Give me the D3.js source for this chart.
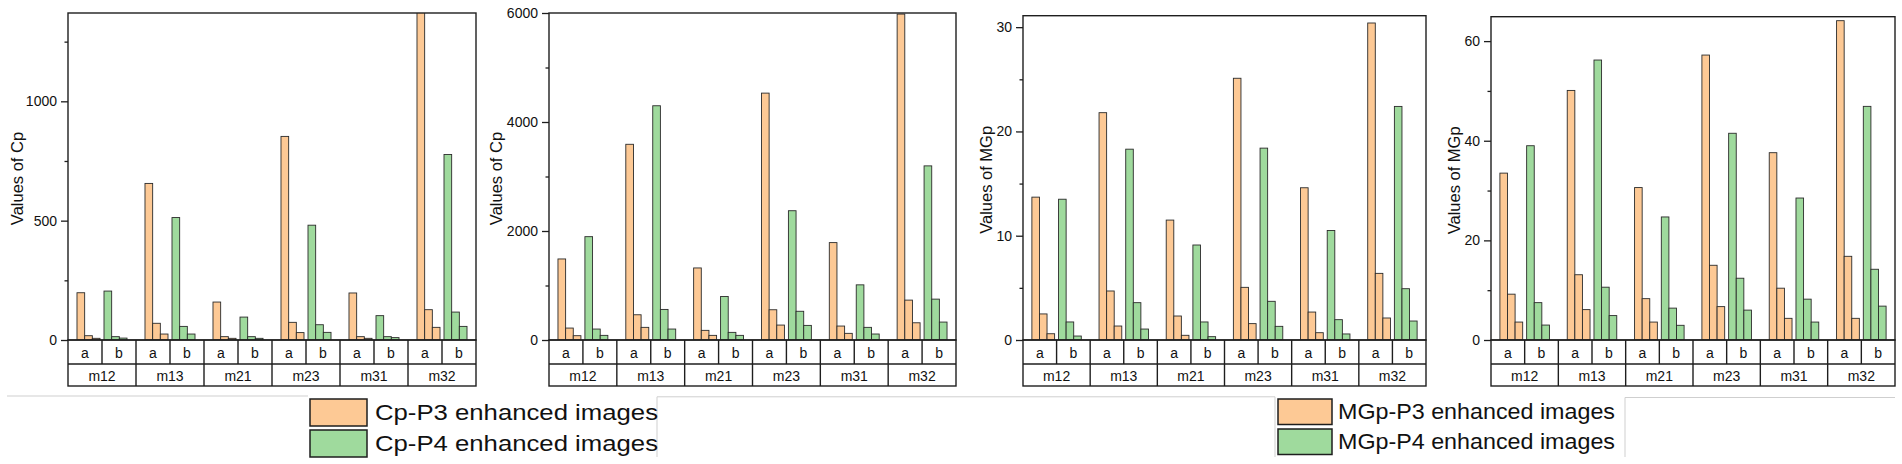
<!DOCTYPE html>
<html>
<head>
<meta charset="utf-8">
<script src="https://cdn.jsdelivr.net/npm/d3@7"></script>
<style>
  body { margin: 0; background: #fff; }
  svg { display: block; font-family: "Liberation Sans", Arial, sans-serif; }
</style>
</head>
<body>
<script>
const groups = ['m12', 'm13', 'm21', 'm23', 'm31', 'm32']
const subgroups = ['a', 'b']
const bars = [0, 1, 2]

// three bars per subgroup, one triple per group
const cpLeftP3 = [[198, 18, 7], [656, 70, 25], [159, 14, 7], [853, 74, 31], [197, 14, 7], [1400, 127, 53]]
const cpLeftP4 = [[205, 14, 8], [513, 57, 25], [96, 14, 7], [481, 64, 32], [102, 14, 10], [777, 117, 57]]
const cpRightP3 = [[1487, 219, 79], [3591, 463, 232], [1322, 177, 85], [4530, 555, 274], [1787, 256, 122], [5980, 732, 316]]
const cpRightP4 = [[1896, 201, 85], [4298, 561, 201], [799, 140, 85], [2372, 527, 268], [1012, 232, 110], [3195, 750, 329]]
const mgpLeftP3 = [[13.7, 2.5, 0.6], [21.8, 4.7, 1.34], [11.5, 2.3, 0.45], [25.1, 5.05, 1.57], [14.6, 2.68, 0.7], [30.4, 6.39, 2.11]]
const mgpLeftP4 = [[13.5, 1.73, 0.38], [18.3, 3.58, 1.05], [9.11, 1.73, 0.32], [18.4, 3.71, 1.31], [10.5, 1.95, 0.58], [22.4, 4.92, 1.82]]
const mgpRightP3 = [[33.5, 9.2, 3.6], [50.1, 13.1, 6.1], [30.6, 8.3, 3.6], [57.2, 15, 6.7], [37.6, 10.4, 4.35], [64.1, 16.8, 4.35]]
const mgpRightP4 = [[39, 7.5, 3], [56.2, 10.6, 4.9], [24.7, 6.4, 2.95], [41.5, 12.4, 6], [28.5, 8.2, 3.6], [46.9, 14.2, 6.8]]

const cpLeftTicks = [0, 500, 1000]
const cpLeftMinor = [250, 750, 1250]
const cpRightTicks = [0, 2000, 4000, 6000]
const cpRightMinor = [1000, 3000, 5000]
const mgpLeftTicks = [0, 10, 20, 30]
const mgpLeftMinor = [5, 15, 25]
const mgpRightTicks = [0, 20, 40, 60]
const mgpRightMinor = [10, 30, 50]
const yMaxes = [1370, 6000, 31.1, 64.9]

const legendCp = ['Cp-P3 enhanced images', 'Cp-P4 enhanced images']
const legendMgp = ['MGp-P3 enhanced images', 'MGp-P4 enhanced images']

const colors = { a: '#fdc995', b: '#9fda9d' }
const width = 1902
const height = 464
const baseY = 340
const row1 = 364
const row2 = 386

const panels = [
  { title: 'Values of Cp', p3: cpLeftP3, p4: cpLeftP4, ticks: cpLeftTicks, minor: cpLeftMinor, yMax: yMaxes[0], left: 68, right: 476, top: 13, titleX: 17 },
  { title: 'Values of Cp', p3: cpRightP3, p4: cpRightP4, ticks: cpRightTicks, minor: cpRightMinor, yMax: yMaxes[1], left: 549, right: 956, top: 13, titleX: 496 },
  { title: 'Values of MGp', p3: mgpLeftP3, p4: mgpLeftP4, ticks: mgpLeftTicks, minor: mgpLeftMinor, yMax: yMaxes[2], left: 1023, right: 1426, top: 15.7, titleX: 986 },
  { title: 'Values of MGp', p3: mgpRightP3, p4: mgpRightP4, ticks: mgpRightTicks, minor: mgpRightMinor, yMax: yMaxes[3], left: 1491, right: 1895, top: 16.7, titleX: 1454 }
]

const svg = d3.select('body')
  .append('svg')
  .attr('width', width)
  .attr('height', height)

// faint frame lines left over round the legends
const grey = svg.append('g')
  .attr('stroke', '#cfcfcf')
  .attr('stroke-width', 1)
  .attr('fill', 'none')
grey.append('path').attr('d', 'M7,396H308')
grey.append('path').attr('d', 'M657,457V396.8H1275V457')
grey.append('path').attr('d', 'M1625,457V397.5H1895')

panels.forEach(function (p, pi) {
  const g = svg.append('g')

  const x0 = d3.scaleBand()
    .domain(groups)
    .range([p.left, p.right])
  const x1 = d3.scaleBand()
    .domain(subgroups)
    .range([0, x0.bandwidth()])
    .paddingInner(0.148)
    .paddingOuter(0.333)
  const x2 = d3.scaleBand()
    .domain(bars)
    .range([0, x1.bandwidth()])
  const cell = d3.scaleBand()
    .domain(subgroups)
    .range([0, x0.bandwidth()])
  const y = d3.scaleLinear()
    .domain([0, p.yMax])
    .range([baseY, p.top])

  const clipId = 'clip' + pi
  svg.append('clipPath').attr('id', clipId)
    .append('rect')
    .attr('x', p.left).attr('y', p.top)
    .attr('width', p.right - p.left).attr('height', baseY - p.top)

  const rows = []
  groups.forEach(function (grp, gi) {
    subgroups.forEach(function (s) {
      const vals = s === 'a' ? p.p3[gi] : p.p4[gi]
      bars.forEach(function (b) {
        rows.push({ group: grp, sub: s, bar: b, value: vals[b] })
      })
    })
  })

  g.append('g')
    .attr('clip-path', `url(#${clipId})`)
    .selectAll('rect')
    .data(rows)
    .enter()
    .append('rect')
    .attr('x', function (d) { return x0(d.group) + x1(d.sub) + x2(d.bar) })
    .attr('y', function (d) { return y(d.value) })
    .attr('width', x2.bandwidth())
    .attr('height', function (d) { return baseY - y(d.value) })
    .attr('fill', function (d) { return colors[d.sub] })
    .attr('stroke', '#2b2b2b')
    .attr('stroke-width', 0.9)

  // plot frame
  g.append('rect')
    .attr('x', p.left).attr('y', p.top)
    .attr('width', p.right - p.left).attr('height', baseY - p.top)
    .attr('fill', 'none')
    .attr('stroke', '#1e1e1e')
    .attr('stroke-width', 1.4)

  const yAxis = d3.axisLeft(y)
    .tickValues(p.ticks)
    .tickFormat(d3.format('d'))
    .tickSize(7)
    .tickSizeOuter(0)
    .tickPadding(4)
  const yMinor = d3.axisLeft(y)
    .tickValues(p.minor)
    .tickSize(3.5)
    .tickSizeOuter(0)
    .tickFormat('')

  const ax = g.append('g')
    .attr('transform', `translate(${p.left}, 0)`)
    .call(yAxis)
  ax.select('.domain').remove()
  ax.selectAll('line').attr('stroke', '#1e1e1e').attr('stroke-width', 1.3)
  ax.selectAll('text')
    .attr('font-size', 14)
    .attr('fill', '#111')
    .attr('font-family', '"Liberation Sans", Arial, sans-serif')

  const mx = g.append('g')
    .attr('transform', `translate(${p.left}, 0)`)
    .call(yMinor)
  mx.select('.domain').remove()
  mx.selectAll('line').attr('stroke', '#1e1e1e').attr('stroke-width', 1.3)

  g.append('text')
    .attr('transform', `translate(${p.titleX}, ${(baseY + p.top) / 2 + 2}) rotate(-90)`)
    .attr('text-anchor', 'middle')
    .attr('dominant-baseline', 'central')
    .attr('font-size', 16.5)
    .attr('fill', '#111')
    .text(p.title)

  // category table under the plot
  const table = g.append('g')
    .attr('stroke', '#1e1e1e')
    .attr('stroke-width', 1.4)
    .attr('fill', 'none')
  table.append('rect')
    .attr('x', p.left).attr('y', baseY)
    .attr('width', p.right - p.left).attr('height', row2 - baseY)
  table.append('line')
    .attr('x1', p.left).attr('x2', p.right)
    .attr('y1', row1).attr('y2', row1)
  table.selectAll('.gdiv')
    .data(groups.slice(1))
    .enter()
    .append('line')
    .attr('x1', function (d) { return x0(d) })
    .attr('x2', function (d) { return x0(d) })
    .attr('y1', baseY).attr('y2', row2)
  table.selectAll('.sdiv')
    .data(groups)
    .enter()
    .append('line')
    .attr('x1', function (d) { return x0(d) + cell('b') })
    .attr('x2', function (d) { return x0(d) + cell('b') })
    .attr('y1', baseY).attr('y2', row1)

  const cells = []
  groups.forEach(function (grp) {
    subgroups.forEach(function (s) { cells.push({ group: grp, sub: s }) })
  })
  g.selectAll('.sublabel')
    .data(cells)
    .enter()
    .append('text')
    .attr('x', function (d) { return x0(d.group) + cell(d.sub) + cell.bandwidth() / 2 })
    .attr('y', (baseY + row1) / 2 + 1)
    .attr('text-anchor', 'middle')
    .attr('dominant-baseline', 'central')
    .attr('font-size', 14)
    .attr('fill', '#111')
    .text(function (d) { return d.sub })
  g.selectAll('.grouplabel')
    .data(groups)
    .enter()
    .append('text')
    .attr('x', function (d) { return x0(d) + x0.bandwidth() / 2 })
    .attr('y', (row1 + row2) / 2 + 1)
    .attr('text-anchor', 'middle')
    .attr('dominant-baseline', 'central')
    .attr('font-size', 14)
    .attr('fill', '#111')
    .text(function (d) { return d })
})

const drawLegend = function (labels, x, swW, swH, tops, textX, textLen) {
  const lg = svg.append('g')
  labels.forEach(function (label, i) {
    lg.append('rect')
      .attr('x', x).attr('y', tops[i])
      .attr('width', swW).attr('height', swH)
      .attr('fill', i === 0 ? colors.a : colors.b)
      .attr('stroke', '#1e1e1e')
      .attr('stroke-width', 1.5)
    lg.append('text')
      .attr('x', textX)
      .attr('y', tops[i] + swH - 6)
      .attr('font-size', 22.5)
      .attr('fill', '#111')
      .attr('textLength', textLen)
      .attr('lengthAdjust', 'spacingAndGlyphs')
      .text(label)
  })
}
drawLegend(legendCp, 310, 57, 27, [399, 430], 375, 283)
drawLegend(legendMgp, 1278, 54, 25.5, [399, 429], 1338, 277)
</script>
</body>
</html>
